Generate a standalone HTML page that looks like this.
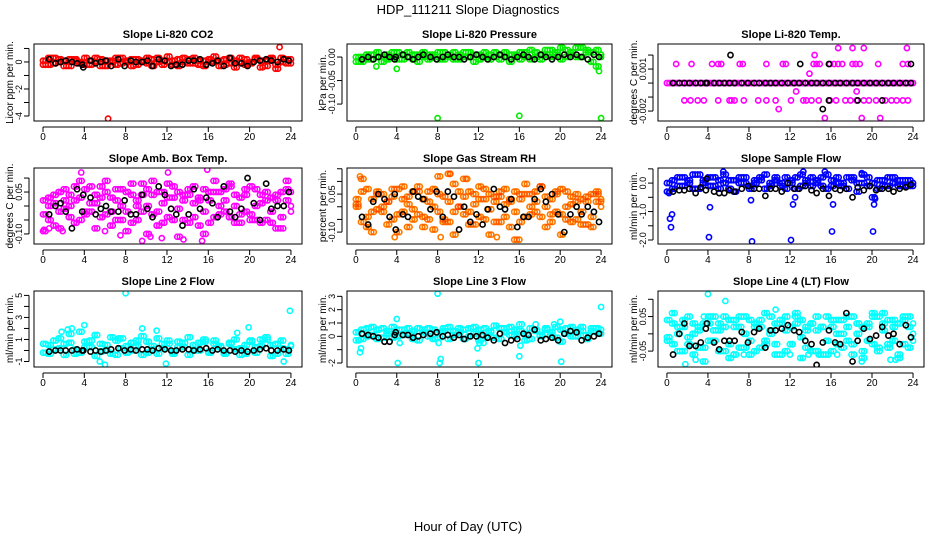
<!DOCTYPE html>
<html><head><meta charset="utf-8"><style>
body{margin:0;background:#fff}
svg text{font-family:"Liberation Sans",Arial,sans-serif;fill:#000}
</style></head><body>
<svg id="chart" width="936" height="540" viewBox="0 0 936 540" xmlns="http://www.w3.org/2000/svg">
<text x="468" y="14" font-size="13" text-anchor="middle">HDP_111211  Slope Diagnostics</text>
<text x="468" y="531" font-size="13" text-anchor="middle">Hour of Day (UTC)</text>
</svg>
<script>
const H=[0,0.5,1,1.5,2,2.5,3,3.5,4,4.5,5,5.5,6,6.5,7,7.5,8,8.5,9,9.5,10,10.5,11,11.5,12,12.5,13,13.5,14,14.5,15,15.5,16,16.5,17,17.5,18,18.5,19,19.5,20,20.5,21,21.5,22,22.5,23,23.5,24];
const H2=[0.25,0.75,1.25,1.75,2.25,2.75,3.25,3.75,4.25,4.75,5.25,5.75,6.25,6.75,7.25,7.75,8.25,8.75,9.25,9.75,10.25,10.75,11.25,11.75,12.25,12.75,13.25,13.75,14.25,14.75,15.25,15.75,16.25,16.75,17.25,17.75,18.25,18.75,19.25,19.75,20.25,20.75,21.25,21.75,22.25,22.75,23.25,23.75];
const BH=[0.6,1.2,1.7,2.2,2.8,3.3,3.8,3.9,4.6,5.1,5.6,6.1,6.6,7.3,7.9,8.5,9.0,9.6,10.1,10.6,11.2,11.8,12.4,12.9,13.5,14.1,14.6,15.2,15.8,16.4,16.9,17.5,18.1,18.6,19.2,19.8,20.4,21.0,21.6,22.1,22.7,23.3,23.8];

const co2A=[0.1,-0.2,0.3,0.0,-0.3,0.2,0.1,-0.1,0.3,-0.2,0.0,0.2,-0.3,0.1,0.3,-0.1,0.0,0.2,-0.2,0.1,0.3,-0.3,0.0,0.1,0.4,-0.2,0.2,0.0,-0.1,0.3,-0.2,0.1,0.0,0.4,-0.3,0.2,-0.1,0.1,0.3,-0.2,0.0,0.2,-0.4,0.1,0.3,-0.2,0.0,0.2,-0.1];
const co2B=[-0.2,0.3,-0.1,0.2,0.1,-0.3,0.2,0.0,-0.2,0.1,0.3,-0.3,0.1,0.0,-0.2,0.3,0.1,-0.3,0.2,0.0,-0.1,0.2,0.3,-0.2,0.0,0.1,-0.3,0.3,0.2,-0.1,0.1,-0.3,0.2,0.0,0.1,-0.2,0.3,-0.4,0.0,0.2,-0.1,0.3,0.1,-0.3,0.2,-0.5,0.3,-0.1,0.2];
const co2OutX=[6.3,22.9];
const co2OutY=[-4.2,1.1];
const co2Black=[0.2,-0.1,0.0,0.1,0.0,-0.1,-0.2,-0.4,0.1,-0.1,0.0,0.1,-0.3,0.2,-0.3,0.1,0.0,0.0,0.1,-0.3,0.2,0.1,-0.3,-0.2,-0.2,0.1,0.1,0.2,-0.2,-0.1,0.1,-0.3,0.3,-0.1,-0.1,-0.3,0.0,0.1,0.2,0.1,0.0,0.2,0.1];

const presA=[-0.01,0.0,-0.005,0.005,0.0,-0.01,0.005,0.0,0.01,-0.005,0.0,0.005,-0.01,0.0,0.005,0.0,-0.005,0.01,0.0,-0.005,0.005,0.0,0.01,-0.01,0.005,0.0,-0.005,0.01,0.005,0.0,-0.01,0.005,0.01,0.0,-0.005,0.01,0.005,0.015,0.0,0.01,-0.005,0.015,0.01,0.0,0.02,0.01,-0.01,0.015,0.005];
const presB=[0.0,-0.01,0.005,-0.005,0.01,0.0,-0.005,0.01,-0.005,0.005,0.01,-0.005,0.005,0.01,-0.005,0.005,0.01,-0.005,0.005,0.01,-0.005,0.01,0.0,0.005,-0.005,0.01,0.005,0.0,-0.005,0.01,0.005,0.0,-0.005,0.01,0.015,0.0,-0.005,0.005,0.015,0.005,0.02,0.0,0.005,0.02,0.0,0.015,0.01,-0.02,0.0];
const presOutX=[2.0,4.0,8.0,16.0,24.0,23.8];
const presOutY=[-0.02,-0.025,-0.13,-0.125,-0.13,-0.03];
const presBlack=[-0.005,0.0,-0.005,0.0,0.005,0.0,-0.005,0.0,0.005,0.0,-0.005,0.0,0.005,0.0,-0.005,0.0,0.005,0.0,0.0,-0.005,0.0,0.005,0.0,-0.005,0.0,0.005,0.0,-0.005,0.0,0.005,0.0,-0.005,0.005,0.0,-0.005,0.0,0.005,0.0,0.005,0.0,-0.005,0.005,0.0];

const tempBase=[0,0,0,0,0,0,0,0,0,0,0,0,0,0,0,0,0,0,0,0,0,0,0,0,0,0,0,0,0,0,0,0,0,0,0,0,0,0,0,0,0,0,0,0,0,0,0,0,0];
const tempHiHours=[0.9,2.4,4.4,5.0,5.3,7.1,7.4,9.7,11.3,11.6,14.3,14.6,14.9,15.9,16.3,16.7,17.1,18.1,18.4,18.8,20.6,23.0,23.5];
const tempHiValue=0.00136;
const tempLoHours=[1.7,2.3,3.0,3.6,5.0,6.1,6.3,6.6,7.5,8.9,9.7,10.6,12.1,13.3,13.6,14.1,14.8,15.9,16.5,17.4,17.9,18.5,19.2,19.7,20.4,21.3,21.9,22.4,23.0,23.5];
const tempLoValue=-0.00124;
const tempOutX=[16.7,18.1,19.2,23.4,14.4,13.9,12.6,18.5,10.9,15.4,19.0,20.8];
const tempOutY=[0.0025,0.0025,0.0025,0.0025,0.002,0.00067,-0.0006,-0.0006,-0.00186,-0.0025,-0.0025,-0.0025];
const tempBlack=[0,0,0,0,0,0,0,0,0,0,0,0,0,0,0,0,0,0,0,0,0,0,0,0,0,0,0,0,0,0,0,0,0,0,0,0,0,0,0,0,0,0,0];
const tempBlackOutX=[6.2,13.0,15.8,23.8,15.8,18.6,21.0,15.2];
const tempBlackOutY=[0.002,0.00136,0.00136,0.00136,-0.00124,-0.00124,-0.00124,-0.00186];

const ambA=[0.02,-0.05,0.04,-0.02,0.06,0.0,-0.06,0.03,-0.03,0.07,0.01,-0.04,0.05,-0.07,0.02,0.06,-0.02,0.04,-0.05,0.08,0.0,-0.03,0.05,-0.06,0.03,0.07,-0.01,-0.05,0.04,0.01,-0.07,0.06,0.02,-0.04,0.05,-0.02,0.07,0.0,-0.06,0.04,-0.03,0.06,0.01,-0.05,0.03,-0.08,0.05,0.02,-0.02];
const ambB=[-0.03,0.03,-0.07,0.05,-0.01,0.04,0.02,-0.05,0.06,-0.02,0.04,0.07,-0.03,0.03,-0.05,0.0,0.05,-0.06,0.02,-0.02,0.06,0.04,-0.07,0.01,-0.04,0.03,0.05,0.02,-0.06,0.07,0.03,-0.02,-0.06,0.05,0.0,0.06,-0.04,0.04,0.03,-0.02,0.07,-0.05,0.04,0.05,-0.02,0.04,-0.04,0.06,0.0];
const ambC=[-0.09,0.0,0.01,-0.08,0.02,-0.04,0.07,0.09,-0.02,0.01,-0.08,0.03,0.09,-0.02,0.06,-0.05,-0.09,0.08,0.0,0.04,-0.10,0.09,-0.02,0.05,0.08,-0.05,-0.11,0.04,0.06,-0.04,0.02,-0.10,0.05,0.09,-0.03,0.02,0.08,-0.06,-0.03,0.06,-0.05,0.0,-0.06,0.02,-0.06,0.02,-0.08,0.09,0.05];
const ambOutX=[9.6,10.4,11.5,12.1,13.6,15.4,15.9,7.5,6.0,3.7,0.1,0.6,1.9];
const ambOutY=[-0.125,-0.11,-0.115,0.12,-0.12,-0.125,0.13,-0.105,-0.09,0.12,-0.085,-0.08,-0.09];
const ambBlack=[-0.03,0.0,0.01,-0.02,-0.08,0.06,-0.02,0.04,0.03,-0.03,-0.01,0.0,-0.02,-0.02,0.02,-0.03,-0.03,0.04,-0.01,-0.04,0.07,0.04,-0.01,-0.03,-0.07,-0.03,0.06,-0.01,0.03,0.01,-0.04,0.07,-0.02,-0.04,-0.01,0.10,0.01,-0.05,0.08,-0.01,0.0,0.0,0.05];

const rhA=[0.03,-0.06,0.07,-0.02,0.05,0.0,-0.07,0.04,-0.03,0.08,0.01,-0.05,0.06,-0.08,0.02,0.07,-0.02,0.04,-0.06,0.09,0.0,-0.03,0.06,-0.07,0.03,0.07,-0.01,-0.06,0.04,0.01,-0.08,0.06,0.03,-0.04,0.05,-0.02,0.08,0.0,-0.06,0.05,-0.03,0.06,0.01,-0.05,0.03,-0.07,0.05,0.02,0.0];
const rhB=[0.01,0.06,-0.04,0.03,-0.01,0.05,0.02,-0.05,0.07,-0.02,0.04,0.06,-0.03,0.03,-0.05,0.0,0.05,-0.06,0.02,-0.02,0.06,0.04,-0.07,0.01,-0.04,0.03,0.05,0.02,-0.06,0.07,0.03,-0.02,-0.06,0.05,0.0,0.06,-0.04,0.04,0.03,-0.02,0.07,-0.05,0.04,0.05,-0.02,0.04,-0.04,0.06,0.02];
const rhC=[0.0,0.11,-0.08,-0.1,0.06,-0.02,0.02,0.07,-0.1,0.03,-0.08,-0.01,0.08,-0.04,0.06,-0.09,0.12,-0.05,0.13,-0.11,0.0,0.11,-0.02,0.05,0.08,-0.05,-0.11,0.04,0.06,-0.04,0.02,-0.13,0.05,0.09,-0.03,0.02,0.08,-0.08,-0.03,0.06,-0.11,0.0,-0.06,0.02,-0.07,0.02,-0.08,0.05,0.03];
const rhOutX=[0.4,3.8,8.3,9.2,10.9,16.0,13.8];
const rhOutY=[0.12,-0.12,-0.12,0.13,0.11,-0.13,-0.12];
const rhBlack=[-0.04,-0.07,0.02,0.05,0.03,-0.04,0.05,-0.09,-0.03,-0.04,0.06,0.04,0.03,-0.01,0.06,-0.04,0.06,0.04,-0.09,0.0,-0.06,-0.03,-0.07,-0.01,0.07,0.0,-0.01,0.03,-0.08,-0.04,-0.04,0.03,0.07,0.02,0.05,-0.03,-0.10,-0.03,0.0,-0.03,0.0,-0.02,-0.06];

const sfA=[-0.3,0.1,-0.1,0.2,0.0,-0.2,0.3,0.1,-0.1,0.2,-0.2,0.0,0.1,-0.3,0.2,0.0,-0.1,0.1,0.2,-0.2,0.0,0.1,-0.1,0.2,0.0,-0.2,0.3,0.1,-0.1,0.0,0.2,-0.2,0.1,0.0,-0.1,0.2,0.1,-0.3,0.0,0.2,-0.5,0.1,-0.1,0.2,0.0,0.1,-0.1,0.1,0.0];
const sfB=[0.0,-0.2,0.2,-0.1,0.1,0.3,-0.2,0.0,0.2,-0.1,0.1,0.3,-0.2,0.1,0.0,0.2,-0.2,0.0,0.1,0.3,-0.1,0.2,0.0,-0.2,0.1,0.2,-0.1,0.0,0.2,0.1,-0.1,0.3,-0.1,0.2,0.0,-0.2,0.2,0.0,0.3,-0.1,0.0,-0.2,0.1,-0.1,0.2,-0.1,0.1,-0.1,-0.1];
const sfOutX=[0.2,0.3,0.4,0.5,4.1,4.2,8.2,8.3,12.1,12.3,12.5,16.1,16.2,20.1,20.2,5.5,15.4,13.3,19.0,20.3];
const sfOutY=[-0.35,-1.25,-1.55,-1.1,-1.9,-0.85,-0.6,-2.05,-2.0,-0.75,-0.5,-1.7,-0.75,-1.7,-0.75,0.4,0.4,0.4,0.35,-0.55];
const sfBlack=[-0.3,-0.25,-0.25,-0.2,-0.35,-0.15,-0.25,0.15,-0.3,-0.35,-0.35,-0.25,-0.3,-0.2,-0.1,-0.2,-0.2,-0.45,-0.2,-0.2,-0.3,0.0,-0.2,-0.2,-0.1,-0.25,-0.35,-0.2,-0.45,-0.2,-0.25,-0.2,-0.5,-0.15,-0.25,-0.1,-0.25,-0.2,-0.2,-0.3,-0.2,-0.15,-0.05];

const l2A=[0.6,-0.3,0.9,0.2,-0.4,0.7,0.1,-0.2,0.8,0.3,-0.5,0.6,0.0,-0.3,0.9,0.2,-0.2,0.7,0.4,-0.4,0.8,0.1,-0.3,0.6,0.9,-0.1,0.3,0.7,-0.4,0.5,0.0,0.8,-0.2,0.6,0.3,-0.3,0.7,0.1,-0.4,0.5,0.9,-0.2,0.4,1.0,-0.5,0.6,0.2,-0.3,0.5];
const l2B=[-0.2,0.5,0.1,1.1,0.6,1.5,-0.3,1.7,0.3,0.9,1.4,-0.1,0.5,1.2,-0.4,1.1,0.4,0.0,0.9,1.3,-0.2,0.4,1.1,0.2,0.6,-0.3,0.8,0.3,1.2,0.0,0.7,1.0,-0.1,0.9,0.4,-0.2,0.6,1.0,0.2,-0.3,0.8,0.3,1.0,1.2,0.5,-0.3,0.9,0.1,0.4];
const l2OutX=[8.0,23.9,4.0,6.0,5.5,11.9,23.3,9.6,19.9,18.8,2.4,2.8,11.0,1.8,7.3];
const l2OutY=[5.2,3.6,2.3,-1.3,-1.0,-1.2,-1.0,2.0,2.1,1.6,1.9,2.0,1.8,1.7,1.1];
const l2Black=[-0.1,0.0,0.0,0.0,0.0,0.1,0.0,0.0,-0.1,0.0,-0.1,0.0,0.1,0.2,0.0,0.1,0.0,0.1,0.1,0.0,0.2,0.1,0.0,0.0,0.1,0.1,0.0,0.1,0.2,0.0,0.1,0.0,0.0,-0.1,0.0,-0.1,0.0,0.1,0.2,0.0,0.0,0.1,0.0];

const l3A=[0.3,-0.2,0.6,0.1,0.5,-0.1,0.4,0.7,0.0,0.5,0.2,-0.2,0.6,0.3,0.0,0.5,-0.1,0.4,0.7,0.1,0.3,-0.2,0.6,0.2,0.5,0.0,0.4,-0.1,0.6,0.3,0.7,0.0,0.4,0.2,-0.2,0.5,0.1,0.6,0.3,-0.1,0.5,0.2,0.7,0.0,0.4,0.1,0.6,0.3,0.2];
const l3B=[-0.3,0.5,0.0,0.7,-0.2,0.6,0.2,-0.1,0.5,0.1,0.6,0.4,-0.3,0.5,0.6,-0.2,0.3,0.6,-0.2,0.4,0.6,0.5,0.0,0.7,-0.3,0.6,0.3,0.8,-0.2,0.6,0.1,0.5,0.9,-0.3,0.6,0.4,0.0,0.5,0.1,0.7,-0.4,0.6,0.0,0.5,0.7,-0.2,0.4,0.6,0.5];
const l3OutX=[0.3,0.4,0.5,4.0,4.1,4.3,8.0,8.1,8.2,8.3,11.9,12.0,12.1,16.0,16.1,20.0,20.1,24.0,19.4,17.6,12.5];
const l3OutY=[-0.3,-1.2,-0.9,1.3,-2.0,-0.5,3.2,-0.5,-2.0,-1.7,-0.9,-2.0,-0.5,-1.5,-0.7,1.1,-1.9,2.2,0.9,0.9,-0.5];
const l3Black=[0.2,0.1,0.0,-0.1,-0.4,-0.4,0.1,0.3,0.1,0.1,-0.1,0.0,0.1,0.2,0.3,0.0,0.1,-0.1,0.1,-0.2,0.0,0.0,0.1,-0.1,-0.3,0.2,-0.5,-0.3,-0.2,0.2,0.1,0.5,-0.3,-0.2,-0.1,-0.3,0.2,0.4,0.3,-0.3,-0.1,0.0,0.2];

const l4A=[0.04,-0.03,0.02,-0.05,0.05,0.0,-0.04,0.03,-0.02,0.05,0.01,-0.05,0.04,-0.06,0.02,0.05,-0.02,0.03,-0.04,0.06,0.0,-0.03,0.04,-0.05,0.02,0.05,-0.01,-0.04,0.03,0.01,-0.06,0.05,0.02,-0.03,0.04,-0.02,0.05,0.0,-0.05,0.03,-0.03,0.05,0.01,-0.04,0.02,-0.06,0.04,0.02,-0.02];
const l4B=[-0.02,0.03,-0.05,0.04,-0.01,0.03,0.02,-0.04,0.05,-0.02,0.03,0.05,-0.03,0.02,-0.04,0.0,0.04,-0.05,0.02,-0.02,0.05,0.03,-0.06,0.01,-0.03,0.03,0.04,0.02,-0.05,0.05,0.02,-0.02,-0.05,0.04,0.0,0.05,-0.03,0.03,0.02,-0.02,0.06,-0.04,0.03,0.04,-0.02,0.03,-0.03,0.05,0.0];
const l4C=[-0.01,0.06,0.0,0.02,-0.03,-0.06,0.01,-0.08,0.03,0.01,-0.05,0.02,-0.07,0.04,0.05,-0.04,-0.06,0.02,0.04,-0.03,0.01,-0.06,0.03,0.05,-0.03,0.06,-0.07,0.01,0.03,-0.05,0.02,-0.06,0.04,0.0,-0.04,0.02,-0.06,0.03,-0.07,0.02,0.05,-0.05,0.06,-0.03,0.04,-0.07,0.05,-0.04,0.03];
const l4OutX=[4.0,5.7,1.8,2.8,10.6,12.0,13.8,16.6,19.0,21.8,22.3,6.5,7.5,8.0,14.8,3.6];
const l4OutY=[0.115,0.095,-0.088,-0.075,0.07,-0.06,-0.06,-0.06,-0.08,-0.075,-0.075,-0.06,-0.06,-0.06,-0.06,0.05];
const l4Black=[-0.06,0.0,0.03,-0.035,-0.035,-0.025,0.015,0.03,-0.025,-0.045,-0.02,-0.02,-0.02,0.005,-0.025,0.005,0.015,-0.04,0.01,0.01,0.015,0.025,0.01,0.005,-0.02,-0.03,-0.09,-0.025,0.01,-0.025,-0.03,0.06,-0.08,-0.02,0.015,-0.015,-0.005,0.02,-0.005,0.0,-0.03,0.025,-0.01];

const xTicks=[0,4,8,12,16,20,24];

const NS='http://www.w3.org/2000/svg';
const svg=document.getElementById('chart');
function mk(tag,attrs,parent){const e=document.createElementNS(NS,tag);for(const k in attrs)e.setAttribute(k,attrs[k]);(parent||svg).appendChild(e);return e;}

const colL=[34,347,658], colR=[302,612,924];
const rowT=[44,168,291], rowB=[121,244,367];

function panel(p){
  const L=colL[p.col],R=colR[p.col],T=rowT[p.row],B=rowB[p.row];
  const g=mk('g',{});
  
  
  const sx=v=>L+(v-(-0.87))/(25.07-(-0.87))*(R-L);
  const sy=v=>B-(v-p.ymin)/(p.ymax-p.ymin)*(B-T);
  const title=mk('text',{x:(L+R)/2,y:T-6,'font-size':11,'font-weight':'bold','text-anchor':'middle'},g);
  title.textContent=p.title;
  
  
  const yl=mk('text',{x:0,y:0,'font-size':10,'text-anchor':'middle',transform:`translate(${L-21},${(T+B)/2}) rotate(-90)`},g);
  yl.textContent=p.ylabel;
  
  
  const xa=mk('g',{},g);
  
  
  mk('line',{x1:sx(0),x2:sx(24),y1:B+6,y2:B+6,stroke:'#000','stroke-width':1},xa);
  xTicks.forEach(t=>{
    mk('line',{x1:sx(t),x2:sx(t),y1:B+6,y2:B+11,stroke:'#000'},xa);
    const tx=mk('text',{x:sx(t),y:B+19,'font-size':10,'text-anchor':'middle'},xa);
    tx.textContent=t;
    
    
  });
  const ya=mk('g',{},g);
  
  
  const yt=p.yticks;
  mk('line',{x1:L-5,x2:L-5,y1:sy(yt[0]),y2:sy(yt[yt.length-1]),stroke:'#000'},ya);
  yt.forEach(t=>mk('line',{x1:L-10,x2:L-5,y1:sy(t),y2:sy(t),stroke:'#000'},ya));
  p.ylabels.forEach((t,i)=>{
    const tx=mk('text',{x:0,y:0,'font-size':9,'text-anchor':'middle',transform:`translate(${L-12},${sy(t)}) rotate(-90)`},ya);
    tx.textContent=p.ylabelText[i];
    
    
  });
  const cid='c'+p.name;
  const cp=mk('clipPath',{id:cid},g);mk('rect',{x:L,y:T,width:R-L,height:B-T},cp);
  const pts=mk('g',{'clip-path':`url(#${cid})`},g);
  
  
  function dots(xs,ys,col,nm){
    const s=mk('g',{fill:'none',stroke:col,'stroke-width':1.6},pts);
    
    
    const n=Math.min(xs.length,ys.length);
    for(let i=0;i<n;i++){
      const c=mk('circle',{cx:sx(xs[i]),cy:sy(ys[i]),r:2.6},s);
      
      
    }
  }
  p.series.forEach(s=>dots(s[0],s[1],p.color,'colored-series'));
  if(p.color2) p.series.forEach(s=>dots(s[0],s[1],p.color2,'colored-series-overlay'));
  p.black.forEach(s=>dots(s[0],s[1],'#000','black-series'));
  mk('rect',{x:L,y:T,width:R-L,height:B-T,fill:'none',stroke:'#000','stroke-width':1},g);
}
function fill(v,n){return new Array(n).fill(v);}

panel({name:'panel-co2',col:0,row:0,title:'Slope Li-820 CO2',ylabel:'Licor ppm per min.',ymin:-4.37,ymax:1.33,
  yticks:[1,0,-1,-2,-3,-4],ylabels:[0,-2,-4],ylabelText:['0','-2','-4'],color:'#ff0000',
  series:[[H,co2A],[H,co2B],[H2,co2A],[H2,co2B],[co2OutX,co2OutY]],black:[[BH,co2Black]]});
panel({name:'panel-pressure',col:1,row:0,title:'Slope Li-820 Pressure',ylabel:'kPa per min.',ymin:-0.136,ymax:0.0277,
  yticks:[0,-0.05,-0.10],ylabels:[0,-0.05,-0.10],ylabelText:['0.00','-0.05','-0.10'],color:'#00ee00',
  series:[[H,presA],[H,presB],[H2,presA],[H2,presB],[presOutX,presOutY]],black:[[BH,presBlack]]});
panel({name:'panel-temp',col:2,row:0,title:'Slope Li-820 Temp.',ylabel:'degrees C per min.',ymin:-0.00271,ymax:0.00279,
  yticks:[0.002,0.001,0,-0.001,-0.002],ylabels:[0.001,-0.002],ylabelText:['0.001','-0.002'],color:'#ff00ff',
  series:[[H,tempBase],[H2,tempBase],[tempHiHours,fill(tempHiValue,tempHiHours.length)],[tempLoHours,fill(tempLoValue,tempLoHours.length)],[tempOutX,tempOutY]],
  black:[[BH,tempBlack],[tempBlackOutX,tempBlackOutY]]});
panel({name:'panel-amb-box-temp',col:0,row:1,title:'Slope Amb. Box Temp.',ylabel:'degrees C per min.',ymin:-0.136,ymax:0.136,
  yticks:[0.10,0.05,0,-0.05,-0.10],ylabels:[0.05,-0.10],ylabelText:['0.05','-0.10'],color:'#ff00ff',
  series:[[H,ambA],[H,ambB],[H,ambC],[H2,ambB],[H2,ambC],[H2,ambA],[ambOutX,ambOutY]],black:[[BH,ambBlack]]});
panel({name:'panel-gas-stream-rh',col:1,row:1,title:'Slope Gas Stream RH',ylabel:'percent per min.',ymin:-0.147,ymax:0.153,
  yticks:[0.15,0.10,0.05,0,-0.05,-0.10],ylabels:[0.05,-0.10],ylabelText:['0.05','-0.10'],color:'#ffb000',color2:'rgba(255,0,0,0.3)',
  series:[[H,rhA],[H,rhB],[H,rhC],[H2,rhB],[H2,rhC],[H2,rhA],[rhOutX,rhOutY]],black:[[BH,rhBlack]]});
panel({name:'panel-sample-flow',col:2,row:1,title:'Slope Sample Flow',ylabel:'ml/min per min.',ymin:-2.14,ymax:0.53,
  yticks:[0.5,0,-0.5,-1,-1.5,-2],ylabels:[0,-1,-2],ylabelText:['0.0','-1.0','-2.0'],color:'#0000ff',
  series:[[H,sfA],[H,sfB],[H2,sfA],[H2,sfB],[sfOutX,sfOutY]],black:[[BH,sfBlack]]});
panel({name:'panel-line2-flow',col:0,row:2,title:'Slope Line 2 Flow',ylabel:'ml/min per min.',ymin:-1.5,ymax:5.4,
  yticks:[5,4,3,2,1,0,-1],ylabels:[5,3,1,-1],ylabelText:['5','3','1','-1'],color:'#00ffff',
  series:[[H,l2A],[H,l2B],[H2,l2A],[H2,l2B],[l2OutX,l2OutY]],black:[[BH,l2Black]]});
panel({name:'panel-line3-flow',col:1,row:2,title:'Slope Line 3 Flow',ylabel:'ml/min per min.',ymin:-2.3,ymax:3.4,
  yticks:[3,2,1,0,-1,-2],ylabels:[3,2,1,0,-2],ylabelText:['3','2','1','0','-2'],color:'#00ffff',
  series:[[H,l3A],[H,l3B],[H2,l3A],[H2,l3B],[l3OutX,l3OutY]],black:[[BH,l3Black]]});
panel({name:'panel-line4-flow',col:2,row:2,title:'Slope Line 4 (LT) Flow',ylabel:'ml/min per min.',ymin:-0.096,ymax:0.124,
  yticks:[0.10,0.05,0,-0.05],ylabels:[0.05,-0.05],ylabelText:['0.05','-0.05'],color:'#00ffff',
  series:[[H,l4A],[H,l4B],[H,l4C],[H2,l4B],[H2,l4C],[H2,l4A],[l4OutX,l4OutY]],black:[[BH,l4Black]]});
</script>
</body></html>
